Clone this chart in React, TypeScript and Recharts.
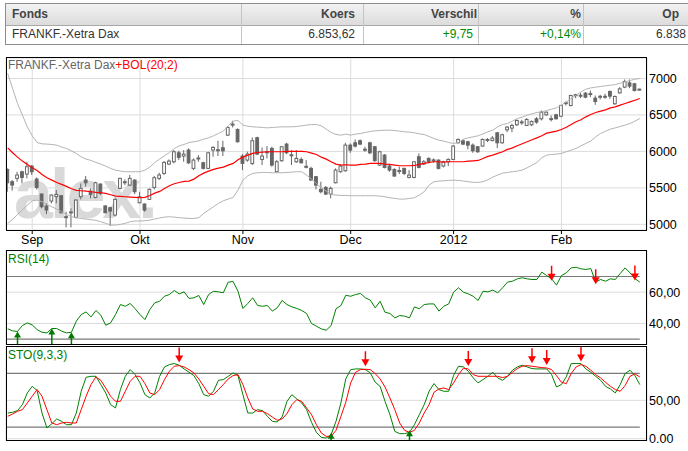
import { ComposedChart, Bar, Line, Scatter, XAxis, YAxis, CartesianGrid, ReferenceLine } from 'recharts';

// table
const headers = ['Fonds', 'Koers', 'Verschil', '%', 'Op'];
const rowValues = ['FRANKF.-Xetra Dax', '6.853,62', '+9,75', '+0,14%', '6.838'];

// x axis: one point per trading day, 25 Aug 2011 .. 23 Feb 2012
const monthTicks = [5, 27, 48, 70, 91, 113];
const monthLabels = ['Sep', 'Okt', 'Nov', 'Dec', '2012', 'Feb'];

const opens = [
  5753, 5584, 5630, 5721, 5689, 5799, 5621, 5415, 5251, 5319,
  5380, 5392, 5095, 5165, 5095, 5379, 5607, 5456, 5369, 5552,
  5251, 5228, 5127, 5493, 5575, 5538, 5607, 5296, 5278, 5342,
  5506, 5630, 5698, 5826, 5858, 5981, 5936, 6018, 5767, 5904,
  5844, 5767, 6018, 6018, 6050, 6223, 6370, 6301, 5936, 5881,
  5835, 6187, 5890, 5990, 6041, 5721, 5872, 6100, 5949, 5858,
  5890, 5790, 5767, 5653, 5479, 5506, 5415, 5570, 5721, 5735,
  6086, 6118, 6146, 6027, 6118, 6064, 5813, 5949, 5799, 5753,
  5735, 5767, 5643, 5643, 5927, 5826, 5904, 5881, 5881, 5799,
  5858, 5890, 6118, 6146, 6132, 6086, 6064, 6073, 6155, 6150,
  6255, 6118, 6296, 6319, 6365, 6402, 6356, 6365, 6447, 6447,
  6502, 6447, 6502, 6483, 6666, 6630, 6776, 6767, 6799, 6790,
  6730, 6753, 6753, 6822, 6653, 6803, 6881, 6940, 6927, 6844,
];
const highs = [
  5767, 5607, 5721, 5735, 5858, 5813, 5643, 5424, 5287, 5410,
  5470, 5401, 5173, 5219, 5342, 5561, 5662, 5493, 5584, 5561,
  5264, 5242, 5365, 5639, 5616, 5676, 5616, 5447, 5287, 5493,
  5662, 5707, 5867, 5890, 6018, 6009, 6018, 6041, 5904, 5950,
  5858, 5995, 6073, 6146, 6146, 6347, 6420, 6315, 5963, 5995,
  6191, 6201, 6054, 6073, 6064, 5881, 6073, 6118, 6018, 6018,
  5917, 5881, 5790, 5662, 5584, 5525, 5516, 5767, 5826, 6118,
  6109, 6164, 6164, 6064, 6132, 6073, 6009, 5963, 5826, 5767,
  5790, 5776, 5744, 5867, 5972, 5881, 5917, 5904, 5890, 5872,
  5904, 6086, 6178, 6164, 6146, 6109, 6073, 6178, 6182, 6210,
  6264, 6242, 6347, 6379, 6438, 6433, 6456, 6424, 6470, 6561,
  6547, 6493, 6516, 6639, 6685, 6776, 6790, 6803, 6813, 6835,
  6767, 6776, 6790, 6835, 6767, 6881, 6986, 6986, 6940, 6860,
];
const lows = [
  5447, 5461, 5584, 5561, 5630, 5676, 5479, 5219, 5141, 5287,
  5287, 5150, 4958, 4958, 5082, 5342, 5516, 5356, 5356, 5401,
  5150, 4977, 5105, 5479, 5538, 5525, 5415, 5287, 5173, 5333,
  5479, 5607, 5676, 5813, 5835, 5881, 5858, 5826, 5744, 5858,
  5753, 5758, 5927, 5936, 5936, 6210, 6329, 6123, 5744, 5858,
  5813, 5949, 5813, 5904, 5790, 5707, 5858, 5963, 5813, 5844,
  5835, 5767, 5598, 5479, 5424, 5401, 5356, 5561, 5708, 5721,
  5981, 6054, 6086, 5995, 5963, 5858, 5799, 5767, 5721, 5653,
  5689, 5675, 5630, 5630, 5767, 5813, 5835, 5844, 5753, 5780,
  5799, 5881, 6109, 6086, 6027, 5981, 5981, 6064, 6127, 6137,
  6045, 6105, 6264, 6264, 6347, 6365, 6347, 6347, 6379, 6424,
  6488, 6411, 6438, 6470, 6630, 6616, 6730, 6730, 6730, 6744,
  6639, 6712, 6721, 6721, 6639, 6790, 6867, 6867, 6822, 6835,
];
const closes = [
  5570, 5538, 5676, 5643, 5790, 5721, 5506, 5242, 5196, 5401,
  5410, 5159, 5105, 5170, 5333, 5493, 5570, 5410, 5570, 5424,
  5159, 5182, 5342, 5630, 5584, 5630, 5447, 5379, 5196, 5479,
  5639, 5676, 5849, 5867, 5995, 5918, 5963, 5844, 5881, 5910,
  5767, 5981, 6054, 6023, 6009, 6328, 6374, 6132, 5835, 5963,
  6146, 5963, 5936, 5995, 5813, 5858, 6064, 5981, 5954, 5904,
  5844, 5795, 5607, 5538, 5447, 5415, 5493, 5744, 5799, 6086,
  6018, 6073, 6100, 6030, 5981, 5872, 5995, 5780, 5744, 5662,
  5738, 5698, 5675, 5858, 5780, 5858, 5858, 5884, 5767, 5858,
  5890, 6073, 6164, 6100, 6086, 6009, 5995, 6164, 6164, 6182,
  6118, 6228, 6333, 6356, 6424, 6405, 6438, 6411, 6402, 6538,
  6538, 6450, 6447, 6630, 6669, 6767, 6779, 6770, 6744, 6793,
  6685, 6756, 6756, 6758, 6753, 6858, 6959, 6895, 6835, 6854,
];

// Bollinger (20;2)
const bolMid = [
  6049, 5981, 5921, 5867, 5821, 5775, 5739, 5684, 5638, 5606,
  5574, 5547, 5520, 5488, 5465, 5460, 5456, 5447, 5437, 5433,
  5424, 5405, 5387, 5383, 5378, 5374, 5369, 5364, 5369, 5396,
  5428, 5451, 5492, 5529, 5556, 5574, 5588, 5593, 5620, 5666,
  5702, 5730, 5753, 5771, 5785, 5812, 5835, 5885, 5921, 5949,
  5972, 5985, 5990, 5995, 5995, 5995, 5995, 6000, 6000, 6000,
  6000, 5995, 5976, 5958, 5921, 5894, 5858, 5826, 5812, 5817,
  5812, 5812, 5821, 5826, 5835, 5835, 5835, 5826, 5821, 5812,
  5803, 5803, 5803, 5807, 5821, 5835, 5848, 5858, 5858, 5853,
  5858, 5858, 5858, 5858, 5867, 5871, 5876, 5903, 5931, 5949,
  5972, 5995, 6027, 6049, 6077, 6104, 6132, 6159, 6186, 6214,
  6250, 6264, 6278, 6300, 6330, 6369, 6406, 6433, 6474, 6506,
  6533, 6552, 6570, 6597, 6611, 6634, 6657, 6680, 6702, 6725,
];
const bolUp = [
  7068, 6862, 6657, 6497, 6337, 6214, 6122, 6104, 6100, 6095,
  6086, 6059, 6040, 6008, 5972, 5926, 5894, 5876, 5848, 5826,
  5798, 5766, 5743, 5730, 5721, 5721, 5721, 5721, 5743, 5784,
  5848, 5894, 5940, 5985, 6040, 6077, 6095, 6122, 6132, 6145,
  6168, 6186, 6214, 6246, 6278, 6351, 6415, 6424, 6360, 6346,
  6337, 6333, 6328, 6323, 6328, 6333, 6337, 6337, 6337, 6342,
  6351, 6360, 6369, 6369, 6351, 6305, 6260, 6232, 6223, 6237,
  6223, 6237, 6246, 6260, 6273, 6282, 6287, 6291, 6291, 6287,
  6278, 6269, 6264, 6255, 6241, 6232, 6205, 6177, 6154, 6141,
  6122, 6109, 6122, 6168, 6186, 6200, 6214, 6241, 6269, 6291,
  6337, 6369, 6383, 6415, 6451, 6470, 6497, 6515, 6534, 6543,
  6561, 6579, 6597, 6634, 6680, 6725, 6771, 6817, 6853, 6871,
  6881, 6890, 6899, 6908, 6917, 6935, 6954, 6972, 6990, 6999,
];
const bolLow = [
  5013, 5067, 5136, 5195, 5264, 5323, 5332, 5309, 5273, 5241,
  5209, 5172, 5136, 5104, 5090, 5081, 5072, 5063, 5054, 5036,
  5013, 4990, 4990, 4999, 5013, 5036, 5045, 5045, 5049, 5058,
  5072, 5086, 5099, 5104, 5099, 5090, 5086, 5081, 5081, 5090,
  5150, 5195, 5241, 5287, 5323, 5346, 5369, 5469, 5606, 5666,
  5698, 5707, 5711, 5711, 5707, 5707, 5707, 5711, 5716, 5721,
  5721, 5675, 5620, 5561, 5501, 5456, 5410, 5401, 5396, 5396,
  5392, 5392, 5392, 5392, 5392, 5392, 5387, 5378, 5364, 5355,
  5346, 5346, 5355, 5364, 5401, 5447, 5538, 5584, 5593, 5597,
  5602, 5606, 5602, 5593, 5584, 5575, 5575, 5584, 5611, 5648,
  5675, 5702, 5711, 5721, 5730, 5743, 5775, 5812, 5848, 5912,
  5949, 5958, 5963, 5972, 5995, 6017, 6040, 6077, 6109, 6141,
  6200, 6246, 6278, 6305, 6323, 6342, 6360, 6383, 6415, 6451,
];

const rsi = [
  36.6, 35.3, 34.9, 38.7, 40.4, 39.1, 36.1, 34.4, 34.0, 36.8,
  36.8, 35.1, 34.0, 34.4, 41.5, 45.7, 47.4, 44.2, 48.3, 45.3,
  38.9, 40.4, 45.7, 52.1, 51.0, 52.8, 49.4, 45.7, 42.5, 48.9,
  53.2, 54.2, 57.4, 58.5, 61.1, 58.9, 60.2, 56.0, 56.4, 57.9,
  52.1, 58.5, 60.6, 60.2, 59.6, 66.4, 66.8, 60.6, 49.6, 52.8,
  56.4, 51.5, 51.0, 51.5, 47.9, 50.0, 54.7, 52.1, 50.6, 49.6,
  48.3, 46.4, 40.0, 38.3, 36.6, 35.7, 38.7, 49.4, 51.5, 58.0,
  57.4, 58.5, 59.2, 56.4, 54.9, 50.0, 54.2, 47.2, 46.4, 43.6,
  45.1, 44.7, 43.6, 50.6, 49.4, 52.1, 52.5, 52.5, 47.9, 51.0,
  52.5, 60.0, 62.8, 60.0, 58.9, 57.4, 54.7, 60.6, 60.2, 61.3,
  59.6, 62.8, 66.4, 67.0, 68.5, 69.2, 68.5, 68.1, 68.1, 72.8,
  70.6, 68.5, 64.5, 70.6, 72.3, 75.5, 75.9, 74.9, 74.5, 75.1,
  66.4, 68.1, 67.0, 68.5, 68.1, 71.9, 75.5, 72.3, 68.7, 66.4,
];
const rsiBuy = [2, 9, 13];
const rsiSell = [111, 120, 128];

const stoK = [
  33.5, 34.4, 36.6, 44.4, 59.6, 68.3, 62.7, 33.5, 14.0, 19.6,
  25.7, 22.7, 18.3, 18.3, 33.5, 61.8, 80.0, 81.3, 81.3, 70.5,
  59.6, 44.4, 40.1, 64.0, 81.3, 90.0, 83.5, 72.7, 57.4, 53.1,
  59.6, 81.3, 93.5, 96.5, 97.9, 95.7, 90.9, 86.6, 82.2, 71.8,
  57.4, 55.3, 61.8, 76.1, 77.0, 81.3, 85.7, 82.2, 57.4, 33.5,
  33.5, 37.9, 36.6, 29.2, 22.7, 21.8, 28.3, 48.7, 57.4, 51.8,
  46.6, 37.9, 21.4, 8.3, 1.8, 0.9, 5.3, 22.7, 46.6, 78.0,
  90.0, 90.9, 90.9, 90.0, 85.7, 73.5, 68.3, 48.7, 31.4, 9.6,
  6.6, 6.6, 8.3, 18.3, 31.4, 44.4, 61.8, 71.8, 64.0, 61.8,
  61.8, 82.6, 94.4, 93.5, 87.9, 79.2, 72.7, 77.0, 81.3, 86.6,
  79.2, 76.1, 81.3, 89.2, 93.5, 95.7, 93.5, 91.3, 90.9, 90.9,
  90.9, 83.5, 67.4, 70.5, 80.5, 97.9, 97.9, 97.9, 90.9, 86.6,
  81.3, 76.1, 68.3, 64.8, 59.6, 70.5, 84.8, 89.2, 82.2, 70.5,
];
const stoD = [
  29.2, 32.2, 35.7, 37.9, 46.6, 55.3, 64.0, 55.3, 37.9, 20.5,
  18.3, 20.5, 21.4, 20.5, 20.5, 37.9, 55.3, 70.5, 80.5, 76.1,
  66.1, 55.3, 48.7, 48.7, 61.8, 74.8, 81.3, 81.3, 71.8, 59.6,
  57.4, 64.0, 77.0, 87.9, 94.4, 95.2, 93.5, 90.0, 85.7, 77.9,
  68.3, 58.7, 57.4, 64.0, 70.5, 77.9, 82.2, 83.5, 70.5, 53.1,
  38.8, 35.7, 35.7, 32.7, 28.3, 24.0, 25.7, 32.7, 44.4, 50.9,
  48.7, 40.1, 31.4, 18.3, 7.5, 3.1, 3.1, 10.9, 29.0, 47.6,
  72.7, 86.6, 90.0, 90.5, 90.0, 84.8, 77.9, 67.4, 53.1, 37.9,
  20.5, 10.9, 8.3, 10.9, 20.5, 33.5, 44.4, 60.5, 64.8, 66.1,
  64.0, 72.7, 83.5, 91.8, 90.9, 83.5, 81.3, 81.3, 81.3, 81.3,
  81.3, 79.6, 81.3, 86.6, 91.3, 94.4, 95.2, 94.4, 93.5, 92.6,
  92.2, 90.0, 82.2, 73.5, 71.8, 84.8, 93.5, 96.5, 94.4, 89.2,
  83.5, 79.2, 73.5, 68.3, 64.0, 61.8, 69.2, 81.3, 84.4, 80.5,
];
const stoBuy = [66, 82];
const stoSell = [35, 73, 94, 107, 110, 117];

const X_DOMAIN: [number, number] = [-0.35, 130.47];
const FONT = "'Liberation Sans', Arial, sans-serif";
const AXIS_TICK = { fontSize: 12.5, fill: '#000' };
const PANEL_BOTTOM = 94.5;

const candleData = opens.map((o, i) => ({
  i, o, h: highs[i], l: lows[i], c: closes[i],
  hl: [lows[i], highs[i]],
  mid: bolMid[i], up: bolUp[i], lo: bolLow[i],
}));
const rsiData = rsi.map((v, i) => ({ i, v }));
const stoData = stoK.map((k, i) => ({ i, k, d: stoD[i] }));
const rsiBuyPts = rsiBuy.map(i => ({ i, v: rsi[i] }));
const rsiSellPts = rsiSell.map(i => ({ i, v: rsi[i] }));
const stoBuyPts = stoBuy.map(i => ({ i, v: stoK[i] }));
const stoSellPts = stoSell.map(i => ({ i, v: stoD[i] }));

function Candle(props: any) {
  const { x, y, width, height, payload } = props;
  const { o, h, l, c } = payload;
  const cx = x + width / 2;
  const ratio = height / (h - l);
  const yo = y + (h - o) * ratio;
  const yc = y + (h - c) * ratio;
  const top = Math.min(yo, yc);
  const bh = Math.max(Math.abs(yc - yo), 1);
  return (
    <g>
      <line x1={cx} x2={cx} y1={y} y2={y + height} stroke="#666" strokeWidth={1} />
      <rect x={cx - 1.4} y={top} width={2.8} height={bh} fill={c >= o ? '#fff' : '#666'} stroke="#666" strokeWidth={1} />
    </g>
  );
}

const buyArrow = (lift: number) => (props: any) => {
  const { cx, cy } = props;
  const t = cy - lift;
  return (
    <g>
      <line x1={cx} x2={cx} y1={t + 5} y2={PANEL_BOTTOM} stroke="#007a00" strokeWidth={1.5} />
      <path d={`M${cx},${t} L${cx - 3.5},${t + 6} L${cx + 3.5},${t + 6} Z`} fill="#007a00" />
    </g>
  );
};

const sellArrow = (drop: number) => (props: any) => {
  const { cx, cy } = props;
  const t = cy + drop;
  return (
    <g>
      <line x1={cx} x2={cx} y1={t - 15} y2={t - 6} stroke="#ff0000" strokeWidth={1.5} />
      <path d={`M${cx},${t} L${cx - 4},${t - 7} L${cx + 4},${t - 7} Z`} fill="#ff0000" />
    </g>
  );
};

const commaFmt = (v: number) => (v === 0 ? '0.00' : v.toFixed(2).replace('.', ','));

const colEdges = [5, 241, 363, 478, 583];
const headRight = [0, 355, 477, 581, 679];
const dataRight = [0, 355, 473, 581, 686];
const dataColors = ['#333', '#333', '#008a00', '#008a00', '#333'];

function QuoteTable() {
  return (
    <>
      <div style={{ position: 'absolute', left: 5, top: 3, width: 720, height: 22, background: 'linear-gradient(#f3f3f3, #dcdcdc)' }} />
      <div style={{ position: 'absolute', left: 5, top: 25, width: 720, height: 1, background: '#a8a8a8' }} />
      {colEdges.slice(1).map(x => (
        <div key={x} style={{ position: 'absolute', left: x, top: 3, width: 1, height: 41, background: '#c4c4c4' }} />
      ))}
      <div style={{ position: 'absolute', left: 5, top: 3, width: 720, height: 42, border: '1px solid #8c8c8c', boxSizing: 'border-box' }} />
      {headers.map((t, k) => (
        <div key={t} style={{
          position: 'absolute', top: 3, height: 22, lineHeight: '22px', fontSize: 12, fontWeight: 'bold', color: '#444',
          whiteSpace: 'nowrap',
          ...(k === 0 ? { left: 12 } : { right: 688 - headRight[k], textAlign: 'right' as const }),
        }}>{t}</div>
      ))}
      {rowValues.map((t, k) => (
        <div key={t} style={{
          position: 'absolute', top: 25, height: 19, lineHeight: '19px', fontSize: 12, color: dataColors[k],
          whiteSpace: 'nowrap',
          ...(k === 0 ? { left: 12 } : { right: 688 - dataRight[k], textAlign: 'right' as const }),
        }}>{t}</div>
      ))}
    </>
  );
}

function Frame({ top, height }: { top: number; height: number }) {
  return <div style={{ position: 'absolute', left: 6, top, width: 641, height, border: '1px solid #000', boxSizing: 'border-box', pointerEvents: 'none' }} />;
}

export default function App() {
  return (
    <div style={{ position: 'absolute', left: 0, top: 0, width: 688, height: 451, overflow: 'hidden', background: '#fff', fontFamily: FONT }}>
      <QuoteTable />

      <div style={{ position: 'absolute', left: 14, top: 164, height: 60, fontSize: 70, fontWeight: 'bold', color: '#d9d9d9', letterSpacing: -3, lineHeight: '60px' }}>alex.</div>

      <div style={{ position: 'absolute', left: 0, top: 0 }}>
        <ComposedChart width={688} height={252} data={candleData} margin={{ top: 58, right: 0, bottom: 0, left: 6 }}>
          <CartesianGrid stroke="#dcdcdc" />
          <XAxis dataKey="i" type="number" domain={X_DOMAIN} ticks={monthTicks} interval={0} allowDataOverflow
            tickFormatter={(v: number) => monthLabels[monthTicks.indexOf(v)]}
            axisLine={false} tickLine={{ stroke: '#000' }} tickSize={4} tickMargin={1} height={22} tick={AXIS_TICK} />
          <YAxis orientation="right" type="number" domain={[4922, 7281]} ticks={[5000, 5500, 6000, 6500, 7000]} allowDataOverflow
            width={41} axisLine={false} tickLine={false} tickSize={2} tickMargin={0} tick={AXIS_TICK} />
          <Bar dataKey="hl" shape={Candle} barSize={4} isAnimationActive={false} />
          <Line dataKey="up" type="linear" stroke="#b4b4b4" strokeWidth={1} dot={false} isAnimationActive={false} />
          <Line dataKey="lo" type="linear" stroke="#b4b4b4" strokeWidth={1} dot={false} isAnimationActive={false} />
          <Line dataKey="mid" type="linear" stroke="#ff0000" strokeWidth={1.2} dot={false} isAnimationActive={false} />
        </ComposedChart>
      </div>
      <Frame top={57} height={174} />
      <div style={{ position: 'absolute', left: 8, top: 58, fontSize: 12, lineHeight: '15px', color: '#666', whiteSpace: 'nowrap' }}>
        FRANKF.-Xetra Dax<span style={{ color: '#ff0000' }}>+BOL(20;2)</span>
      </div>

      <div style={{ position: 'absolute', left: 0, top: 250 }}>
        <ComposedChart width={688} height={95} data={rsiData} margin={{ top: 0.5, right: 0, bottom: 0.5, left: 6 }}>
          <CartesianGrid stroke="#dcdcdc" />
          <XAxis dataKey="i" type="number" domain={X_DOMAIN} ticks={monthTicks} interval={0} allowDataOverflow
            tick={false} axisLine={false} tickLine={false} height={0} />
          <YAxis orientation="right" type="number" domain={[26.6, 86.6]} ticks={[40, 60]} allowDataOverflow tickFormatter={commaFmt}
            width={41} axisLine={false} tickLine={false} tickSize={2} tickMargin={0} tick={AXIS_TICK} />
          <ReferenceLine segment={[{ x: X_DOMAIN[0], y: 70 }, { x: 129, y: 70 }]} stroke="#7a7a7a" strokeWidth={1.2} />
          <ReferenceLine segment={[{ x: X_DOMAIN[0], y: 30 }, { x: 129, y: 30 }]} stroke="#7a7a7a" strokeWidth={1.2} />
          <Line dataKey="v" type="linear" stroke="#008000" strokeWidth={1} dot={false} isAnimationActive={false} />
          <Scatter data={rsiBuyPts} dataKey="v" shape={buyArrow(0)} isAnimationActive={false} />
          <Scatter data={rsiSellPts} dataKey="v" shape={sellArrow(2)} isAnimationActive={false} />
        </ComposedChart>
      </div>
      <Frame top={250} height={95} />
      <div style={{ position: 'absolute', left: 8, top: 252, fontSize: 12, lineHeight: '15px', color: '#008000' }}>RSI(14)</div>

      <div style={{ position: 'absolute', left: 0, top: 346 }}>
        <ComposedChart width={688} height={105} data={stoData} margin={{ top: 0.5, right: 0, bottom: 10.5, left: 6 }}>
          <CartesianGrid stroke="#dcdcdc" />
          <XAxis dataKey="i" type="number" domain={X_DOMAIN} ticks={monthTicks} interval={0} allowDataOverflow
            tick={false} axisLine={false} tickLine={false} height={0} />
          <YAxis orientation="right" type="number" domain={[-2.3, 120.1]} ticks={[0, 50]} allowDataOverflow tickFormatter={commaFmt}
            width={41} axisLine={false} tickLine={false} tickSize={2} tickMargin={0} tick={AXIS_TICK} />
          <ReferenceLine segment={[{ x: X_DOMAIN[0], y: 85 }, { x: 129, y: 85 }]} stroke="#7a7a7a" strokeWidth={1.2} />
          <ReferenceLine segment={[{ x: X_DOMAIN[0], y: 15 }, { x: 129, y: 15 }]} stroke="#7a7a7a" strokeWidth={1.2} />
          <Line dataKey="k" type="linear" stroke="#008000" strokeWidth={1} dot={false} isAnimationActive={false} />
          <Line dataKey="d" type="linear" stroke="#ff0000" strokeWidth={1} dot={false} isAnimationActive={false} />
          <Scatter data={stoBuyPts} dataKey="v" shape={buyArrow(2)} isAnimationActive={false} />
          <Scatter data={stoSellPts} dataKey="v" shape={sellArrow(-3)} isAnimationActive={false} />
        </ComposedChart>
      </div>
      <Frame top={346} height={95} />
      <div style={{ position: 'absolute', left: 8, top: 348, fontSize: 12, lineHeight: '15px', color: '#008000' }}>STO(9,3,3)</div>
    </div>
  );
}
